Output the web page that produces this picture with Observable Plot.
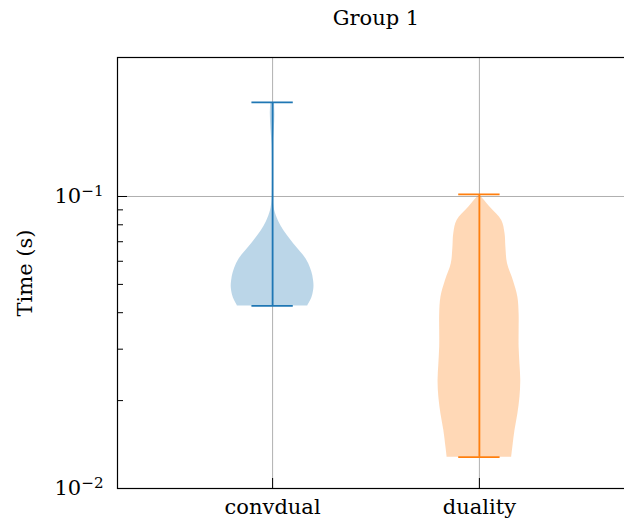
<!DOCTYPE html>
<html>
<head>
<meta charset="utf-8">
<script src="https://cdn.jsdelivr.net/npm/d3@7"></script>
<script src="https://cdn.jsdelivr.net/npm/@observablehq/plot@0.6"></script>
<style>
  html, body { margin: 0; padding: 0; background: #fff; overflow: hidden; }
  #chart { width: 624px; height: 523px; overflow: hidden; }
  #chart svg { max-width: none !important; height: 523px !important; }
</style>
</head>
<body>
<div id="chart"></div>
<script>
// ---- data ----
const title = "Group 1";
const yLabel = "Time (s)";
const categories = ["convdual", "duality"];
const positions = [1, 2];
const colors = ["#1f77b4", "#ff7f0e"];

// violin profiles: time value (s) and relative density (0..1)
const convdualTimes   = [0.0422, 0.0440, 0.0460, 0.0490, 0.0516, 0.0550, 0.0590, 0.0630, 0.0670, 0.0715, 0.0765, 0.0820, 0.0895, 0.0970, 0.110, 0.130, 0.150, 0.170, 0.190, 0.2099];
const convdualDensity = [0.85,   0.92,   0.97,   1.00,   0.99,   0.95,   0.87,   0.74,   0.58,   0.42,   0.27,   0.15,   0.05,   0.015,  0.005, 0.005, 0.012, 0.04,  0.055, 0.045];

const dualityTimes   = [0.0128, 0.0139, 0.0158, 0.0180, 0.0205, 0.0234, 0.0267, 0.0305, 0.0348, 0.0396, 0.0452, 0.0516, 0.0588, 0.0671, 0.0745, 0.0828, 0.0919, 0.1016];
const dualityDensity = [0.78,   0.81,   0.86,   0.93,   0.98,   1.00,   0.98,   0.96,   0.96,   0.96,   0.93,   0.82,   0.68,   0.64,   0.62,   0.54,   0.26,   0.0];

const minTimes = [0.0422, 0.0128];
const maxTimes = [0.2099, 0.1016];

const yMajorTicks = [0.01, 0.1];
const yMajorExponents = ["\u22122", "\u22121"];
const yMinorTicks = [0.02, 0.03, 0.04, 0.05, 0.06, 0.07, 0.08, 0.09];

// ---- build ----
const violinWidth = 0.4;
const profiles = [
  convdualTimes.map((t, i) => ({t, d: convdualDensity[i]})),
  dualityTimes.map((t, i) => ({t, d: dualityDensity[i]}))
];

const violinMarks = [];
categories.forEach((c, k) => {
  const pos = positions[k];
  const col = colors[k];
  violinMarks.push(
    Plot.areaX(profiles[k], {
      y: "t",
      x1: d => pos - d.d * violinWidth / 2,
      x2: d => pos + d.d * violinWidth / 2,
      fill: col, fillOpacity: 0.3, curve: "catmull-rom"
    }),
    Plot.ruleX([{pos, lo: minTimes[k], hi: maxTimes[k]}], {
      x: "pos", y1: "lo", y2: "hi", stroke: col, strokeWidth: 1.8
    }),
    Plot.ruleY([minTimes[k], maxTimes[k]], {
      y: d => d, x1: pos - violinWidth / 4, x2: pos + violinWidth / 4,
      stroke: col, strokeWidth: 1.8
    })
  );
});

const chart = Plot.plot({
  width: 634,
  height: 523,
  marginLeft: 117,
  marginRight: 0,
  marginTop: 57,
  marginBottom: 35,
  style: {fontFamily: "DejaVu Serif", fontSize: "21px", background: "white", color: "black"},
  x: {type: "linear", domain: [0.25, 2.75]},
  y: {type: "log", domain: [0.01, 0.2992]},
  marks: [
    Plot.gridX(positions, {stroke: "#b0b0b0", strokeOpacity: 1, strokeWidth: 1}),
    Plot.gridY(yMajorTicks, {stroke: "#b0b0b0", strokeOpacity: 1, strokeWidth: 1}),
    ...violinMarks,
    Plot.frame({stroke: "black", strokeWidth: 1.2}),
    Plot.axisY(yMinorTicks, {tickSize: -6, tickFormat: () => "", label: null}),
    Plot.axisY(yMajorTicks, {
      tickSize: -10, tickPadding: 24, label: null, fontSize: 21,
      tickFormat: d => "10^" + yMajorExponents[yMajorTicks.indexOf(d)]
    }),
    Plot.axisX(positions, {
      tickSize: -10, tickPadding: 21, label: null, fontSize: 21,
      tickFormat: d => categories[positions.indexOf(d)]
    }),
    Plot.text([title], {frameAnchor: "top", dy: -39, lineAnchor: "middle", fontSize: 21}),
    Plot.text([yLabel], {frameAnchor: "left", textAnchor: "middle", rotate: -90, dx: -92, lineAnchor: "middle", fontSize: 21})
  ]
});

// superscript exponents on the log tick labels
chart.querySelectorAll("text").forEach(el => {
  const s = el.textContent;
  if (s.startsWith("10^")) {
    const exp = s.slice(3);
    el.textContent = "10";
    const ts = document.createElementNS("http://www.w3.org/2000/svg", "tspan");
    ts.setAttribute("dy", "-0.45em");
    ts.setAttribute("font-size", "0.72em");
    ts.textContent = exp;
    el.appendChild(ts);
  }
});

document.getElementById("chart").appendChild(chart);
</script>
</body>
</html>
